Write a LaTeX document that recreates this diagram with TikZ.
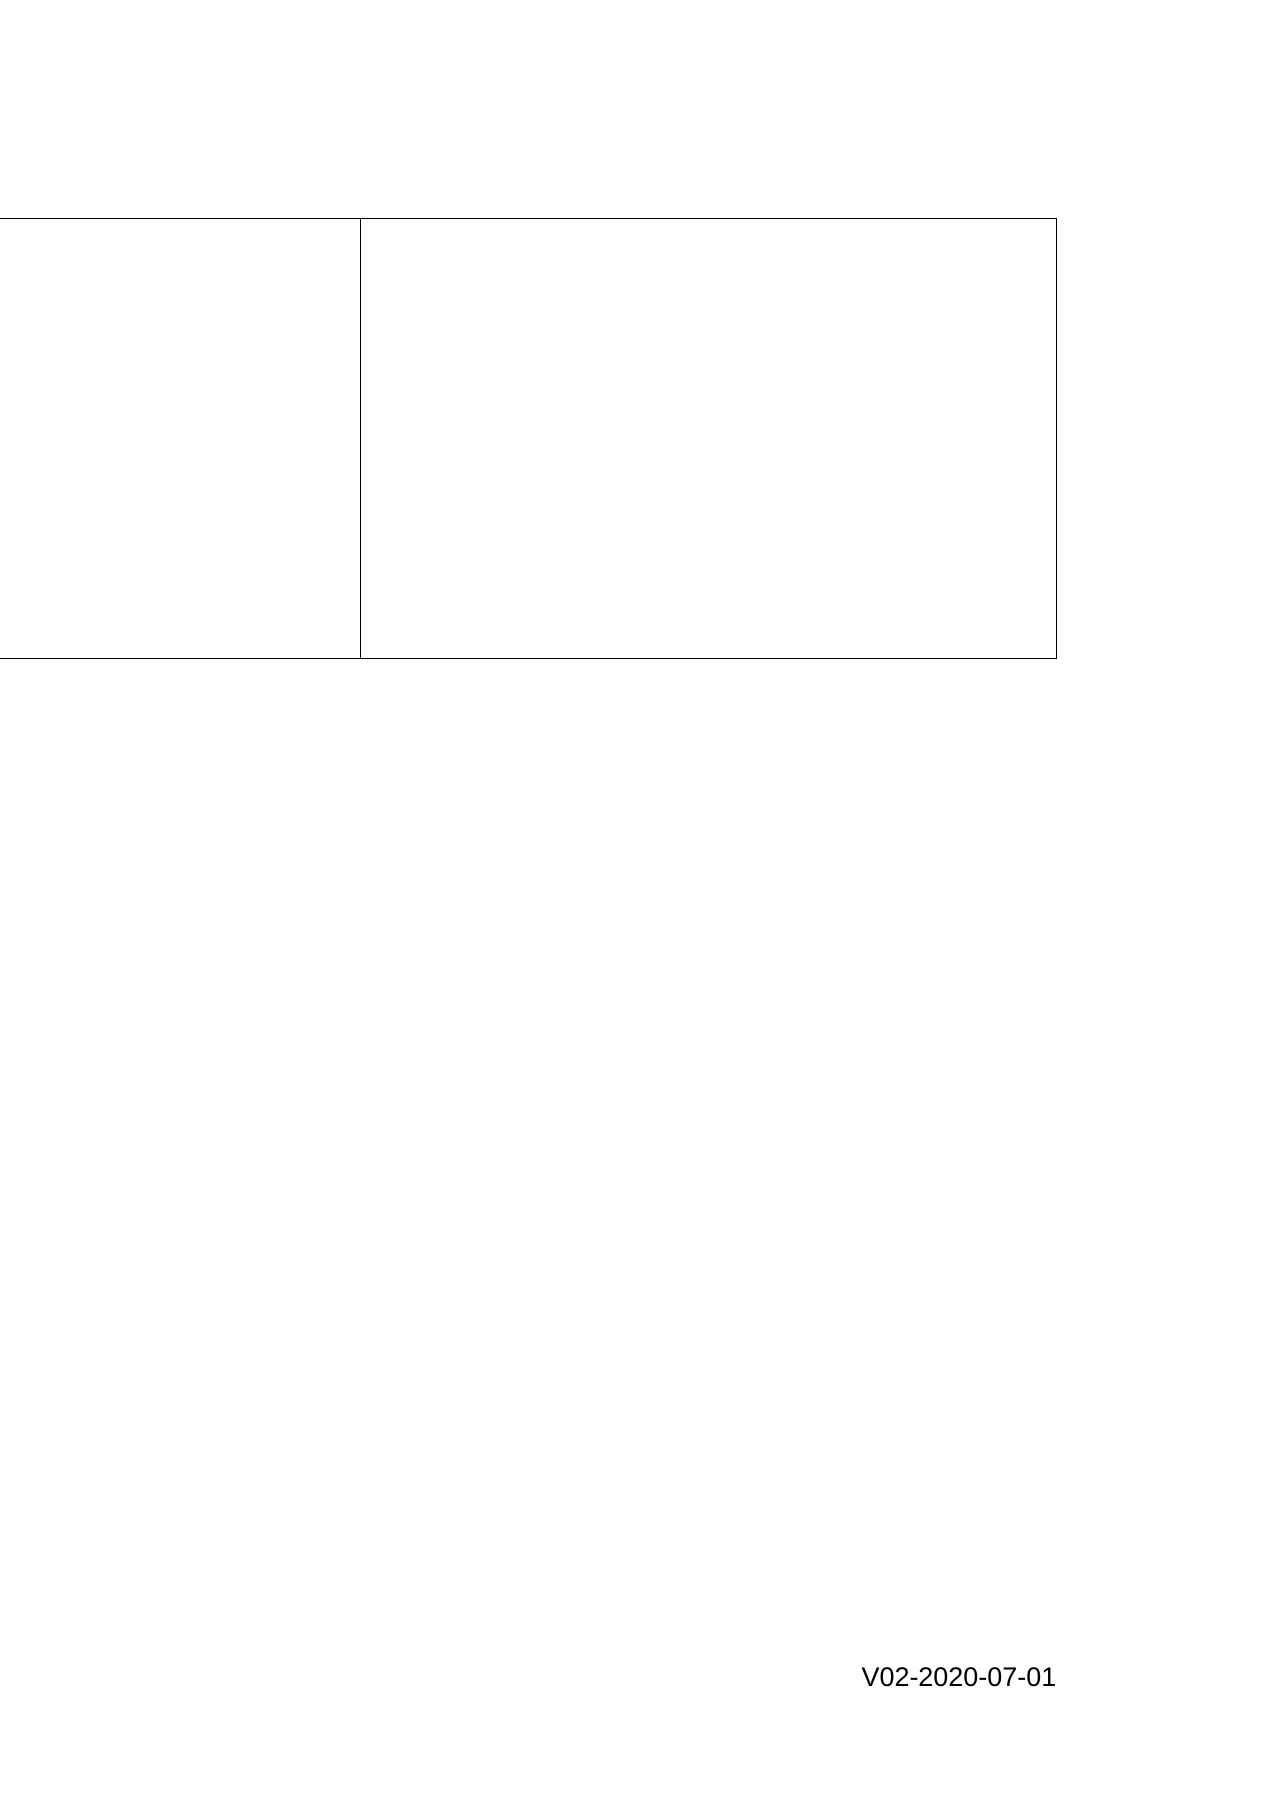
\documentclass[tikz,border=0pt]{standalone}
\usepackage{fontspec}
\setmainfont{Liberation Sans}
\begin{document}
\begin{tikzpicture}[x=0.46762pt,y=-0.46762pt,
  cell/.style={draw=black,line width=0.6pt,inner sep=0pt,outer sep=0pt,rectangle},
  stamp/.style={inner sep=0pt,outer sep=0pt,font=\fontsize{12.6pt}{15pt}\selectfont}]
\useasboundingbox (0,0) rectangle (1273,1800);
\clip (0,0) rectangle (1273,1800);
\coordinate (lefttl) at (-40,218.3);
\coordinate (divtop) at (360.3,218.3);
\coordinate (divbot) at (360.3,658.3);
\coordinate (righttr) at (1056.3,218.3);
\node[cell,fit/.style={},minimum width={(360.3+40)*0.46762pt},minimum height={440*0.46762pt},anchor=north west] (leftcell) at (lefttl) {};
\node[cell,minimum width={696*0.46762pt},minimum height={440*0.46762pt},anchor=north west] (rightcell) at (divtop) {};
\node[stamp,anchor=base east] (version) at (1056.3,1686.3) {V02-2020-07-01};
\end{tikzpicture}
\end{document}
